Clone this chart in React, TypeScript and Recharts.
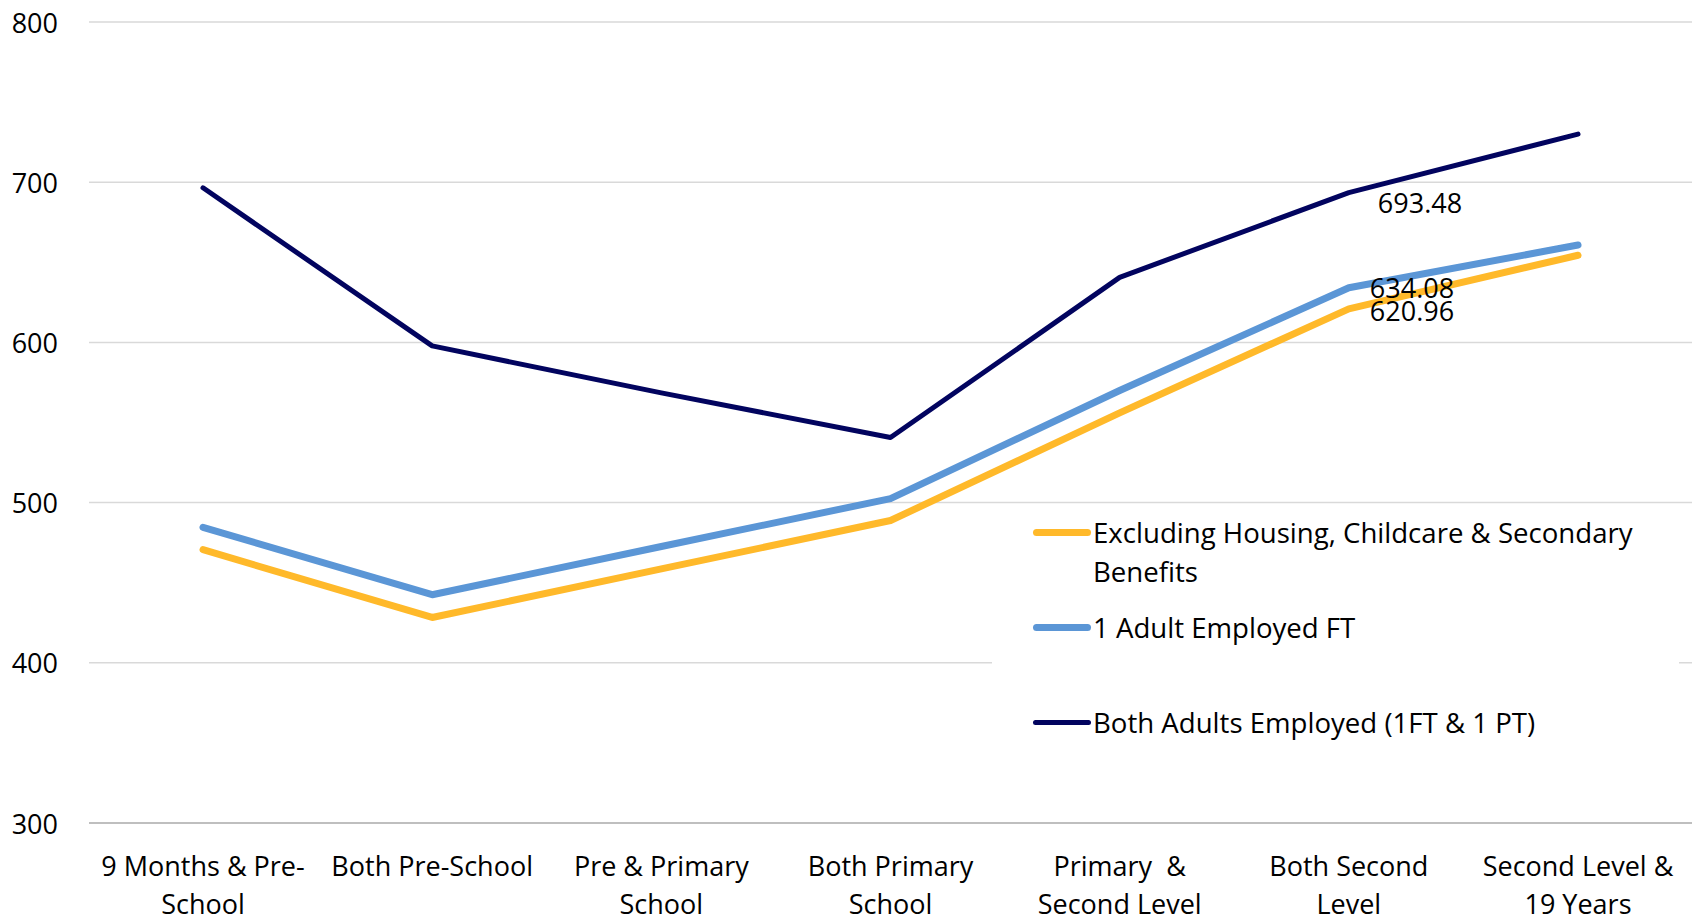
import React from "react";
import { LineChart, Line, XAxis, YAxis, CartesianGrid, Legend, LabelList } from "recharts";

const categories = [
  "9 Months & Pre-School",
  "Both Pre-School",
  "Pre & Primary School",
  "Both Primary School",
  "Primary  & Second Level",
  "Both Second Level",
  "Second Level & 19 Years",
];
const tickLines = [
  ["9 Months & Pre-", "School"],
  ["Both Pre-School"],
  ["Pre & Primary", "School"],
  ["Both Primary", "School"],
  ["Primary  &", "Second Level"],
  ["Both Second", "Level"],
  ["Second Level &", "19 Years"],
];
const excludingHousing = [470.6, 428.3, 458.6, 488.8, 556.0, 620.96, 654.4];
const oneAdultFT = [484.6, 442.5, 472.6, 502.5, 570.0, 634.08, 660.8];
const bothAdults = [696.5, 597.8, 568.5, 540.6, 640.6, 693.48, 730.0];
const yTicks = [300, 400, 500, 600, 700, 800];
const labelIndex = 5;

const seriesNames = [
  "Excluding Housing, Childcare & Secondary Benefits",
  "1 Adult Employed FT",
  "Both Adults Employed (1FT & 1 PT)",
];

const data = categories.map((c, i) => ({
  name: c,
  ex: excludingHousing[i],
  one: oneAdultFT[i],
  both: bothAdults[i],
}));

const FONT = "'Open Sans', sans-serif";
const FS = 27;

const XTick = (props: any) => {
  const { x, y, payload } = props;
  const lines = tickLines[payload.index] || [payload.value];
  return (
    <g>
      {lines.map((l: string, k: number) => (
        <text
          key={k}
          x={x}
          y={y + 42 + k * 38}
          textAnchor="middle"
          dominantBaseline="central"
          fontSize={FS}
          fontFamily={FONT}
          fill="#000"
          style={{ whiteSpace: "pre" }}
        >
          {l}
        </text>
      ))}
    </g>
  );
};

const YTick = (props: any) => {
  const { y, payload } = props;
  return (
    <text x={50} y={y} textAnchor="end" dominantBaseline="central" fontSize={FS} fontFamily={FONT} fill="#000">
      {payload.value}
    </text>
  );
};

const makeLabel = (dx: number, dy: number) => (props: any) => {
  const { x, y, value, index } = props;
  if (index !== labelIndex) return null;
  return (
    <text x={x + dx} y={y + dy} textAnchor="start" dominantBaseline="central" fontSize={FS} fontFamily={FONT} fill="#000">
      {Number(value).toFixed(2)}
    </text>
  );
};

const legendThickness: Record<string, number> = { ex: 7, one: 7, both: 5 };
const legendGaps = [0, 17, 56];

const LegendContent = (props: any) => {
  const payload = [...(props.payload || [])].sort(
    (a: any, b: any) => seriesNames.indexOf(a.value) - seriesNames.indexOf(b.value)
  );
  return (
    <div style={{ fontFamily: FONT, fontSize: 27.6, color: "#000", paddingTop: 6, paddingLeft: 41 }}>
      {payload.map((p: any, i: number) => (
        <div key={i} style={{ display: "flex", alignItems: "flex-start", marginTop: legendGaps[i] }}>
          <div style={{ width: 58, height: 39, position: "relative", flex: "none" }}>
            <div
              style={{
                position: "absolute",
                left: 0,
                right: 0,
                top: 19.5 - legendThickness[p.dataKey] / 2,
                height: legendThickness[p.dataKey],
                background: p.color,
                borderRadius: 4,
              }}
            />
          </div>
          <div style={{ lineHeight: "39px", width: 570, marginLeft: 2 }}>{p.value}</div>
        </div>
      ))}
    </div>
  );
};

export default function App() {
  return (
    <div style={{ padding: "8px 0 0 8px", background: "#fff", width: 1688, height: 909 }}>
      <style>{`body{margin:0;}`}</style>
      <LineChart width={1688} height={909} data={data} margin={{ top: 14, right: 4, left: 0, bottom: 0 }}>
        <CartesianGrid vertical={false} stroke="#D9D9D9" strokeWidth={1.5} />
        <XAxis
          dataKey="name"
          height={94}
          tickLine={false}
          tickSize={0}
          tickMargin={0}
          padding={{ left: 114, right: 114 }}
          axisLine={{ stroke: "#BFBFBF", strokeWidth: 2 }}
          tick={<XTick />}
          interval={0}
        />
        <YAxis
          width={81}
          domain={[300, 800]}
          ticks={yTicks}
          axisLine={false}
          tickLine={false}
          tick={<YTick />}
        />
        <Legend
          layout="horizontal"
          verticalAlign="middle"
          align="center"
          content={<LegendContent />}
          wrapperStyle={{ left: 984, top: 499, width: 687, height: 308, background: "#fff" }}
        />
        <Line
          type="linear"
          dataKey="ex"
          name={seriesNames[0]}
          stroke="#FFB92A"
          strokeWidth={7}
          dot={false}
          activeDot={false}
          strokeLinecap="round"
          strokeLinejoin="round"
          isAnimationActive={false}
        >
          <LabelList dataKey="ex" content={makeLabel(21, 2)} />
        </Line>
        <Line
          type="linear"
          dataKey="one"
          name={seriesNames[1]}
          stroke="#5B96D6"
          strokeWidth={7}
          dot={false}
          activeDot={false}
          strokeLinecap="round"
          strokeLinejoin="round"
          isAnimationActive={false}
        >
          <LabelList dataKey="one" content={makeLabel(21, 0)} />
        </Line>
        <Line
          type="linear"
          dataKey="both"
          name={seriesNames[2]}
          stroke="#02045F"
          strokeWidth={5}
          dot={false}
          activeDot={false}
          strokeLinecap="round"
          strokeLinejoin="round"
          isAnimationActive={false}
        >
          <LabelList dataKey="both" content={makeLabel(29, 10)} />
        </Line>
      </LineChart>
    </div>
  );
}
